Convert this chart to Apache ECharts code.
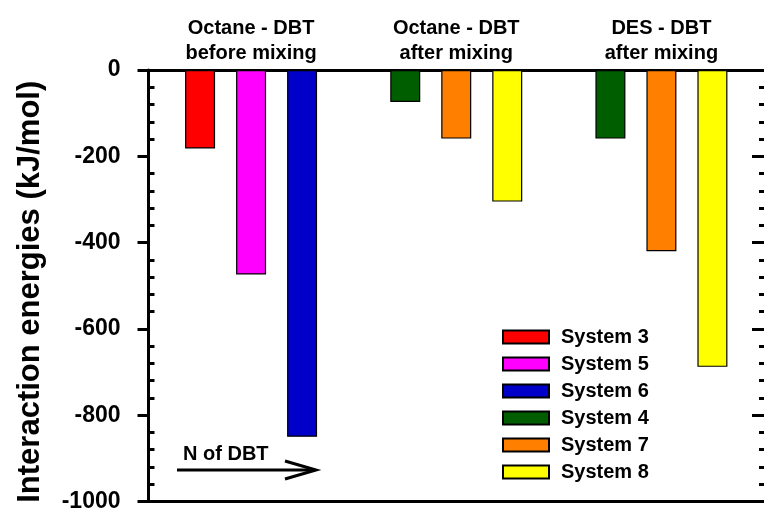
<!DOCTYPE html>
<html>
<head>
<meta charset="utf-8">
<script src="https://cdn.jsdelivr.net/npm/echarts@6/dist/echarts.min.js"></script>
<style>
html,body{margin:0;padding:0;background:#fff;}
#c{width:764px;height:513px;}
</style>
</head>
<body>
<div id="c"></div>
<script>
// ---- data ----
var categories = ["Octane - DBT\nbefore mixing", "Octane - DBT\nafter mixing", "DES - DBT\nafter mixing"];
var seriesNames = ["System 3", "System 5", "System 6", "System 4", "System 7", "System 8"];
var system3 = [-182, '-', '-'];
var system5 = [-474, '-', '-'];
var system6 = [-850, '-', '-'];
var system4 = ['-', -74, -159];
var system7 = ['-', -159, -420];
var system8 = ['-', -305, -688];
var yTicks = { min: -1000, max: 0, interval: 200 };
var yTitle = "Interaction energies (kJ/mol)";
var arrowLabel = "N of DBT";

// ---- styles ----
var FONT = "'Liberation Sans', Arial, sans-serif";
var colors = {"System 3": "#FF0000", "System 5": "#FF00FF", "System 6": "#0000C8",
              "System 4": "#005E00", "System 7": "#FF8000", "System 8": "#FFFF00"};
var stacks = {"System 3": "a", "System 4": "a", "System 5": "b", "System 7": "b", "System 6": "c", "System 8": "c"};
var values = {"System 3": system3, "System 5": system5, "System 6": system6,
              "System 4": system4, "System 7": system7, "System 8": system8};
var drawOrder = ["System 3", "System 5", "System 6", "System 4", "System 7", "System 8"];

var chart = echarts.init(document.getElementById('c'), null, {renderer: 'canvas'});

var series = drawOrder.map(function (n) {
  return {
    name: n, type: 'bar', stack: stacks[n],
    xAxisIndex: 0, yAxisIndex: 0,
    data: values[n],
    barWidth: 30, barGap: '70%',
    itemStyle: {color: colors[n], borderColor: '#000', borderWidth: 1.2},
    emphasis: {disabled: true}
  };
});

var lineStyle = {color: '#000', width: 3};

chart.setOption({
  animation: false,
  textStyle: {fontFamily: FONT, color: '#000'},
  grid: {left: 148.5, right: -0.5, top: 70, bottom: 11, containLabel: false},
  legend: {
    data: seriesNames,
    orient: 'vertical', left: 502, top: 327, padding: 0,
    icon: 'rect', itemWidth: 46, itemHeight: 13, itemGap: 7,
    textStyle: {fontFamily: FONT, fontSize: 20, fontWeight: 'bold', color: '#000', lineHeight: 17, padding: [0,0,0,7]},
    selectedMode: false
  },
  xAxis: [
    {type: 'category', data: categories, position: 'top',
     axisLine: {show: true, onZero: false, lineStyle: lineStyle},
     axisTick: {show: false},
     axisLabel: {fontFamily: FONT, fontSize: 20, fontWeight: 'bold', color: '#000', lineHeight: 25, margin: 4, interval: 0},
     splitLine: {show: false}},
    {type: 'category', data: categories, position: 'bottom',
     axisLine: {show: true, onZero: false, lineStyle: lineStyle},
     axisTick: {show: false}, axisLabel: {show: false}, splitLine: {show: false}}
  ],
  yAxis: [
    {type: 'value', position: 'left', min: yTicks.min, max: yTicks.max, interval: yTicks.interval,
     name: yTitle, nameLocation: 'middle', nameGap: 103,
     nameTextStyle: {fontFamily: FONT, fontSize: 31, fontWeight: 'bold', color: '#000', padding: [0, 12, 0, 0]},
     axisLine: {show: true, lineStyle: lineStyle},
     axisTick: {show: true, inside: false, length: 11, lineStyle: {color: '#000', width: 3}},
     axisLabel: {fontFamily: FONT, fontSize: 23, fontWeight: 'bold', color: '#000', margin: 28,
                 formatter: function (v) { return String(v); }},
     splitLine: {show: false}},
    {type: 'value', position: 'left', min: yTicks.min, max: yTicks.max, interval: yTicks.interval,
     axisLine: {show: false},
     axisTick: {show: false, inside: true},
     minorTick: {show: true, splitNumber: 5, length: 6, lineStyle: {color: '#000', width: 3}},
     axisLabel: {show: false}, splitLine: {show: false}, minorSplitLine: {show: false}},
    {type: 'value', position: 'right', min: yTicks.min, max: yTicks.max, interval: yTicks.interval,
     axisLine: {show: false},
     axisTick: {show: true, inside: true, length: 12, lineStyle: {color: '#000', width: 3}},
     minorTick: {show: true, splitNumber: 5, length: 5, lineStyle: {color: '#000', width: 3}},
     axisLabel: {show: false}, splitLine: {show: false}, minorSplitLine: {show: false}}
  ],
  series: series,
  graphic: [
    {type: 'text', left: 183, top: 444, silent: true,
     style: {text: arrowLabel, fontFamily: FONT, fontSize: 20, fontWeight: 'bold', fill: '#000'}},
    {type: 'line', silent: true, shape: {x1: 177, y1: 470, x2: 315, y2: 470},
     style: {stroke: '#000', lineWidth: 3}},
    {type: 'polyline', silent: true, shape: {points: [[285, 461], [316, 470], [285, 479]]},
     style: {stroke: '#000', lineWidth: 3, fill: null}}
  ]
});
</script>
</body>
</html>
